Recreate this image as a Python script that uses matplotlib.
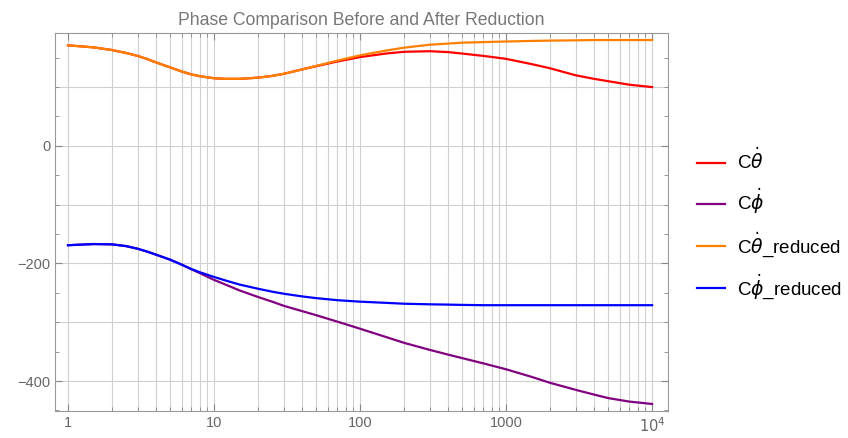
import matplotlib.pyplot as plt
import numpy as np
from matplotlib.ticker import FixedLocator, NullFormatter

# frequency samples (log spaced) and phase values in degrees
freq = [1, 1.5, 2, 2.5, 3, 3.5, 4, 5, 6, 7, 8, 10, 12, 15, 20, 25, 30, 40,
        50, 70, 100, 150, 200, 300, 400, 500, 700, 1000, 1500, 2000, 3000,
        4000, 5000, 7000, 10000]

theta = [171, 167.5, 163, 158, 153, 147.5, 142, 133.5, 126.5, 121.5, 118.5,
         115, 114, 114, 116, 119, 122.5, 130, 135.5, 143.5, 151, 157, 160,
         161, 159.5, 157, 153, 148, 139, 132, 120, 114, 110, 104, 100]
phi = [-169, -167, -167.5, -170.5, -175, -180, -185, -193.5, -202, -210,
       -216.5, -228, -236, -246, -257, -265, -272, -281, -288, -299, -311,
       -325, -335, -347, -355, -361, -370, -380, -393, -403, -415, -423,
       -429, -435, -439]
theta_red = [171, 167.5, 163, 158, 153, 147.5, 142, 133.5, 126.5, 121.5,
             118.5, 115, 114, 114, 116, 119, 122.5, 130, 136, 145, 154, 162,
             167, 172, 174, 175.5, 176.5, 177.5, 178.5, 179, 179.5, 180, 180,
             180, 180]
phi_red = [-169, -167, -167.5, -170.5, -175, -180, -185, -193.5, -202,
           -209.5, -215, -223, -229, -236, -243, -248, -251.5, -256, -259,
           -262.5, -265, -267, -268.5, -269.5, -270, -270.5, -271, -271,
           -271, -271, -271, -271, -271, -271, -271]

labels = [r'C$\dot{\theta}$', r'C$\dot{\phi}$',
          r'C$\dot{\theta}$_reduced', r'C$\dot{\phi}$_reduced']
colors = ['#ff0000', '#800080', '#ff8000', '#0000ff']

plt.rcParams['font.family'] = ['Liberation Sans', 'DejaVu Sans']
plt.rcParams['mathtext.fontset'] = 'dejavusans'

fig = plt.figure(figsize=(8.48, 4.38), dpi=100)
ax = fig.add_axes([0.0649, 0.0616, 0.7231, 0.8631])

# grid lines at every decade subdivision and every 100 degrees
for dec in [1, 10, 100, 1000]:
    for k in range(1, 10):
        ax.axvline(dec * k, color='#d0d0d0', lw=0.8, zorder=0)
ax.axvline(10000, color='#d0d0d0', lw=0.8, zorder=0)
for yv in range(-400, 101, 100):
    ax.axhline(yv, color='#d0d0d0', lw=0.8, zorder=0)

for ys, c, lab in zip([theta, phi, theta_red, phi_red], colors, labels):
    ax.plot(freq, ys, color=c, lw=1.6, label=lab, zorder=2)

ax.set_xscale('log')
ax.set_xlim(0.815, 12900)
ax.set_ylim(-451, 192)

ax.xaxis.set_major_locator(FixedLocator([1, 10, 100, 1000, 10000]))
ax.set_xticklabels(['1', '10', '100', '1000', r'$10^4$'])
minor_x = [d * k for d in [1, 10, 100, 1000] for k in range(2, 10)]
ax.xaxis.set_minor_locator(FixedLocator(minor_x))
ax.xaxis.set_minor_formatter(NullFormatter())
ax.yaxis.set_major_locator(FixedLocator([-400, -200, 0]))
ax.yaxis.set_minor_locator(FixedLocator(list(range(-450, 191, 50))))

ax.tick_params(which='both', direction='in', top=True, right=True,
               colors='#888888', labelcolor='#666666', labelsize=10.5)
ax.tick_params(which='major', length=5, width=0.8)
ax.tick_params(which='minor', length=3, width=0.6)
for sp in ax.spines.values():
    sp.set_color('#999999')

ax.set_title('Phase Comparison Before and After Reduction', color='#777777',
             fontsize=12.7, pad=6)

fig.legend(loc='center left', bbox_to_anchor=(0.802, 0.488), frameon=False,
           fontsize=13.5, labelspacing=0.72, handlelength=1.5,
           handletextpad=0.64)

fig.savefig('out.png', dpi=100)
